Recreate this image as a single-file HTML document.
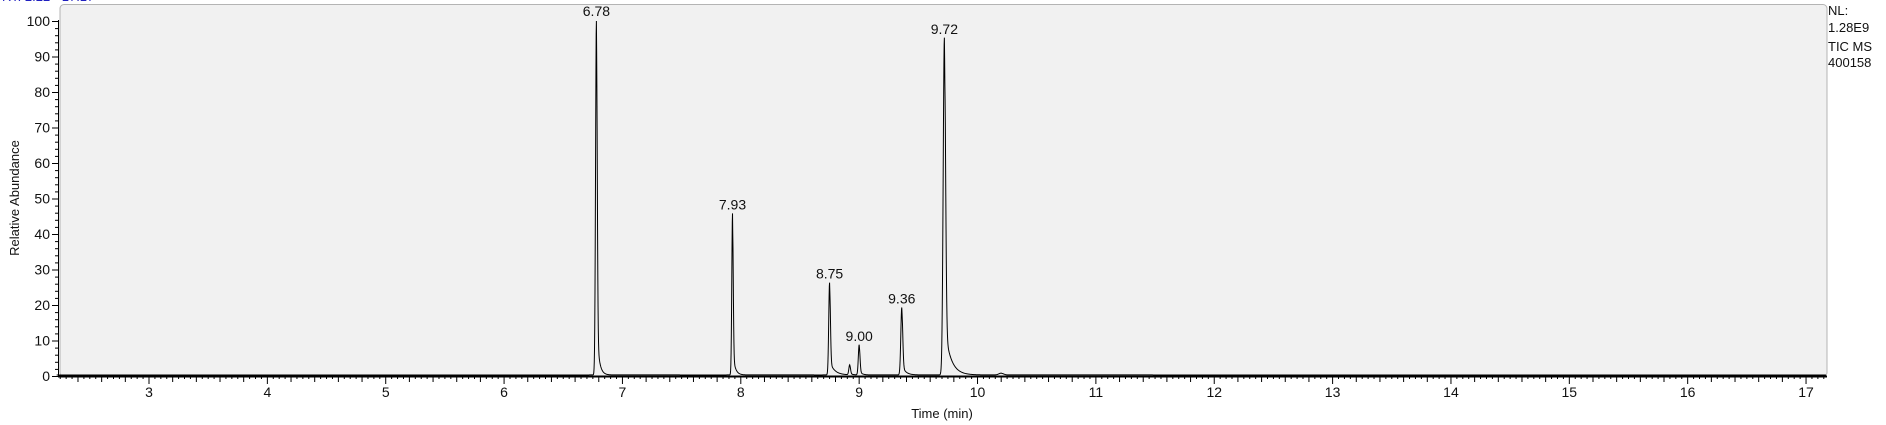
<!DOCTYPE html>
<html><head><meta charset="utf-8"><style>
html,body{margin:0;padding:0;background:#fff;}
svg{display:block;font-family:"Liberation Sans",Arial,sans-serif;}
</style></head><body>
<svg id="chart" width="1886" height="425" viewBox="0 0 1886 425" xmlns="http://www.w3.org/2000/svg">
<text x="2" y="1" font-size="13" fill="#2020c0">RT: 2.22 - 17.17</text>
<rect x="60" y="4.5" width="1767" height="372" rx="4" fill="#f1f1f1" stroke="#b4b4b4" stroke-width="1"/>
<g id="axes"></g>
<g id="trace"></g>
<g id="labels"></g>
<text x="1828" y="15" font-size="13" fill="#111">NL:</text>
<text x="1828" y="32" font-size="13" fill="#111">1.28E9</text>
<text x="1828" y="51" font-size="13" fill="#111">TIC  MS</text>
<text x="1828" y="67" font-size="13" fill="#111">400158</text>
<text x="942" y="418" font-size="13" text-anchor="middle" fill="#111">Time (min)</text>
<text transform="translate(19,198) rotate(-90)" font-size="13" text-anchor="middle" fill="#111">Relative Abundance</text>
</svg>
<script>
const peakTimes = [6.78, 7.93, 8.75, 8.92, 9.00, 9.36, 9.72, 10.20];
const peakHeights = [100, 45.5, 26, 2.8, 8.5, 19, 95, 0.5];
const peakLabels = ["6.78", "7.93", "8.75", null, "9.00", "9.36", "9.72", null];
const xTicks = [3,4,5,6,7,8,9,10,11,12,13,14,15,16,17];
const yTicks = [0,10,20,30,40,50,60,70,80,90,100];
const peakWidths = [0.007, 0.006, 0.007, 0.007, 0.007, 0.008, 0.01, 0.02];
const peakTails = [0.02, 0.02, 0.04, 0.02, 0.02, 0.03, 0.05, 0.02];

const NS = "http://www.w3.org/2000/svg";
const X0 = 149, PX = 118.36, Y0 = 376, PY = 3.55;
const T_MIN = 2.22, T_MAX = 17.17;
function xs(t){ return X0 + (t-3)*PX; }
function ys(v){ return Y0 - v*PY; }
function mk(tag, attrs, parent){ const e=document.createElementNS(NS,tag); for(const k in attrs) e.setAttribute(k,attrs[k]); parent.appendChild(e); return e; }

const axes = document.getElementById('axes');
let line = mk('line',{x1:58,y1:376.5,x2:1827,y2:376.5,stroke:'#000','stroke-width':2},axes);


line = mk('line',{x1:58.5,y1:20,x2:58.5,y2:377,stroke:'#000','stroke-width':1},axes);


for(let v=0; v<=100; v+=2){
  const major = v%10===0;
  const t = mk('line',{x1: major?52:55, y1: ys(v)+0.5, x2:58, y2: ys(v)+0.5, stroke:'#000','stroke-width':1},axes);
  
  
}
yTicks.forEach(v=>{
  const tx = mk('text',{x:50,y:ys(v)+5,'font-size':14,'text-anchor':'end',fill:'#111'},axes);
  tx.textContent = v;
  
  
});
for(let i=Math.ceil(T_MIN*20); i<=Math.floor(T_MAX*20); i++){
  const t = i/20;
  let len = 2;
  if(i%20===0) len=7; else if(i%4===0) len=5;
  const tk = mk('line',{x1:xs(t),y1:377,x2:xs(t),y2:377+len,stroke:'#000','stroke-width':1},axes);
  
  
}
xTicks.forEach(v=>{
  const tx = mk('text',{x:xs(v),y:397,'font-size':14,'text-anchor':'middle',fill:'#111'},axes);
  tx.textContent = v;
  
  
});
function signal(t){
  let s = 0.3;
  for(let i=0;i<peakTimes.length;i++){
    const d = t-peakTimes[i];
    const w = peakWidths[i];
    let v;
    if(d<0) v = Math.exp(-d*d/(2*w*w));
    else v = 0.85*Math.exp(-d*d/(2*w*w)) + 0.15*Math.exp(-d/peakTails[i])*Math.min(1,d/w+0.2);
    if(d>=0 && d<w*0.3) v = Math.max(v, 1 - d/w*0.3);
    s += peakHeights[i]*v;
  }
  return Math.min(s,100);
}
let pts=[];
const step=0.002;
for(let t=T_MIN; t<=T_MAX; t+=step){ pts.push([t,signal(t)]); }
peakTimes.forEach(p=>pts.push([p,signal(p)]));
pts.sort((a,b)=>a[0]-b[0]);
let d = pts.map((p,i)=>(i?'L':'M')+xs(p[0]).toFixed(2)+','+ys(p[1]).toFixed(2)).join('');
const path = mk('path',{d:d,fill:'none',stroke:'#000','stroke-width':1},document.getElementById('trace'));


const lab = document.getElementById('labels');
peakTimes.forEach((p,i)=>{
  if(!peakLabels[i]) return;
  const tx = mk('text',{x:xs(p),y:ys(peakHeights[i])-5,'font-size':14,'text-anchor':'middle',fill:'#111'},lab);
  tx.textContent = peakLabels[i];
  
  
});
</script>
</body></html>
